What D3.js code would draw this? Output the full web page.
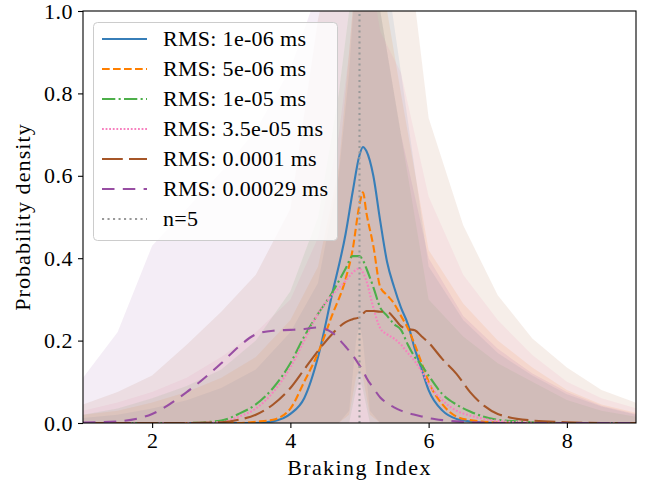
<!DOCTYPE html>
<html>
<head>
<meta charset="utf-8">
<script src="https://cdn.jsdelivr.net/npm/d3@7/dist/d3.min.js"></script>
<style>
  body { margin: 0; background: white; }
</style>
</head>
<body>
<svg id="chart" width="654" height="481"></svg>
<script>
// braking index values where the density curves were read
var lineGrid = [1, 1.5, 2, 2.5, 3, 3.25, 3.5, 3.75, 4, 4.2, 4.4, 4.6, 4.8, 4.9, 5, 5.05, 5.1, 5.2, 5.3, 5.4, 5.5, 5.6, 5.7, 5.8, 5.9, 6, 6.2, 6.4, 6.6, 6.8, 7, 7.5, 8, 8.5, 9]

var rms1e06   = [0,0,0,0,0,0,0,0.004,0.022,0.06,0.16,0.31,0.46,0.56,0.65,0.67,0.66,0.6,0.49,0.39,0.33,0.28,0.24,0.18,0.13,0.08,0.03,0.01,0.004,0.001,0,0,0,0,0]
var rms5e06   = [0,0,0,0,0,0,0.003,0.008,0.035,0.1,0.17,0.26,0.35,0.42,0.53,0.56,0.51,0.43,0.33,0.31,0.29,0.26,0.23,0.19,0.145,0.1,0.045,0.016,0.007,0.003,0.001,0,0,0,0]
var rms1e05   = [0,0,0,0,0.006,0.022,0.045,0.085,0.145,0.21,0.265,0.315,0.375,0.405,0.405,0.395,0.375,0.33,0.28,0.26,0.24,0.226,0.19,0.16,0.14,0.115,0.07,0.045,0.028,0.015,0.008,0.002,0,0,0]
var rms35e06  = [0,0,0,0,0.002,0.015,0.035,0.075,0.135,0.2,0.265,0.31,0.345,0.365,0.375,0.365,0.345,0.28,0.23,0.215,0.205,0.19,0.17,0.15,0.125,0.095,0.055,0.03,0.018,0.01,0.005,0.001,0,0,0]
var rms1e04   = [0,0,0,0,0.002,0.008,0.02,0.045,0.085,0.13,0.175,0.215,0.245,0.252,0.257,0.265,0.272,0.272,0.27,0.27,0.255,0.235,0.228,0.225,0.21,0.195,0.155,0.12,0.075,0.042,0.022,0.006,0.002,0,0]
var rms29e05  = [0.001,0.004,0.022,0.075,0.145,0.185,0.215,0.224,0.226,0.228,0.232,0.22,0.185,0.165,0.14,0.127,0.11,0.085,0.062,0.048,0.038,0.03,0.024,0.02,0.016,0.012,0.007,0.004,0.002,0.001,0,0,0,0,0]

// spread of the densities (lower / upper envelope)
var bandGrid = [1, 1.5, 2, 2.5, 3, 3.5, 4, 4.4, 4.7, 4.85, 4.95, 5, 5.05, 5.15, 5.3, 5.6, 6, 6.5, 7, 7.5, 8, 8.5, 9]

var hi1e06  = [0.012,0.02,0.035,0.055,0.085,0.13,0.22,0.34,0.6,0.85,1.1,1.2,1.25,1.25,1.2,0.85,0.38,0.25,0.17,0.115,0.07,0.04,0.02]
var hi5e06  = [0.02,0.03,0.05,0.075,0.11,0.16,0.25,0.38,0.62,0.9,1.1,1.2,1.25,1.25,1.1,0.8,0.42,0.29,0.2,0.135,0.08,0.045,0.025]
var hi1e05  = [0.02,0.035,0.06,0.09,0.13,0.2,0.32,0.5,0.8,1.0,1.2,1.25,1.25,1.2,1.0,0.7,0.3,0.21,0.145,0.1,0.056,0.03,0.015]
var hi35e06 = [0.03,0.05,0.075,0.11,0.16,0.22,0.3,0.45,0.7,0.9,1.1,1.15,1.15,1.1,0.95,0.85,0.55,0.36,0.25,0.165,0.1,0.06,0.036]
var hi1e04  = [0.045,0.075,0.115,0.19,0.27,0.36,0.52,0.98,1.2,1.3,1.35,1.4,1.4,1.4,1.4,1.3,0.74,0.48,0.31,0.205,0.135,0.08,0.049]
var hi29e05 = [0.11,0.22,0.43,0.52,0.61,0.71,0.86,1.05,1.25,1.3,1.3,1.3,1.25,1.15,1.0,0.7,0.4,0.26,0.18,0.12,0.075,0.042,0.022]

var lo1e06  = [0,0,0,0,0,0,0,0,0,0.03,0.2,0.24,0.2,0.03,0,0,0,0,0,0,0,0,0]
var lo5e06  = [0,0,0,0,0,0,0,0,0,0.02,0.11,0.13,0.11,0.02,0,0,0,0,0,0,0,0,0]
var lo1e05  = [0,0,0,0,0,0,0,0,0,0,0.08,0.11,0.08,0,0,0,0,0,0,0,0,0,0]
var lo35e06 = [0,0,0,0,0,0,0,0,0,0,0,0,0,0,0,0,0,0,0,0,0,0,0]
var lo1e04  = [0,0,0,0,0,0,0,0,0,0,0,0,0,0,0,0,0,0,0,0,0,0,0]
var lo29e05 = [0,0,0,0,0,0,0,0,0,0,0,0,0,0,0,0,0,0,0,0,0,0,0]

var labels = ['RMS: 1e-06 ms', 'RMS: 5e-06 ms', 'RMS: 1e-05 ms', 'RMS: 3.5e-05 ms', 'RMS: 0.0001 ms', 'RMS: 0.00029 ms']
var xTicks = [2, 4, 6, 8]
var yTicks = [0, 0.2, 0.4, 0.6, 0.8, 1.0]
var nTrue = 5

var series = [
  {label: labels[0], y: rms1e06,  hi: hi1e06,  lo: lo1e06,  color: '#377eb8', dash: null},
  {label: labels[1], y: rms5e06,  hi: hi5e06,  lo: lo5e06,  color: '#ff7f00', dash: '7.7,3.3'},
  {label: labels[2], y: rms1e05,  hi: hi1e05,  lo: lo1e05,  color: '#4daf4a', dash: '13.3,3.3,2.1,3.3'},
  {label: labels[3], y: rms35e06, hi: hi35e06, lo: lo35e06, color: '#f781bf', dash: '1.8,1.8'},
  {label: labels[4], y: rms1e04,  hi: hi1e04,  lo: lo1e04,  color: '#a65628', dash: '20.8,6.2'},
  {label: labels[5], y: rms29e05, hi: hi29e05, lo: lo29e05, color: '#984ea3', dash: '12.5,8.3'}
]

var serif = '"Liberation Serif", monospace'
var margin = {left: 83, right: 18, top: 11, bottom: 58}
var width = 654, height = 481
var svg = d3.select('#chart')

var x = d3.scaleLinear().domain([1, 9]).range([margin.left, width - margin.right])
var y = d3.scaleLinear().domain([0, 1]).range([height - margin.bottom, margin.top])

svg.append('defs').append('clipPath').attr('id', 'plotclip')
  .append('rect')
  .attr('x', x(1)).attr('y', y(1))
  .attr('width', x(9) - x(1)).attr('height', y(0) - y(1))

var plot = svg.append('g').attr('clip-path', 'url(#plotclip)')

// bands
var area = d3.area()
  .x(function(d){ return x(d.x) })
  .y0(function(d){ return y(d.lo) })
  .y1(function(d){ return y(d.hi) })

series.forEach(function(s){
  var pts = bandGrid.map(function(g, i){ return {x: g, lo: s.lo[i], hi: s.hi[i]} })
  plot.append('path')
    .attr('d', area(pts))
    .attr('fill', s.color)
    .attr('fill-opacity', 0.1)
})

// density lines
var line = d3.line()
  .x(function(d){ return x(d[0]) })
  .y(function(d){ return y(d[1]) })
  .curve(d3.curveMonotoneX)

series.forEach(function(s){
  plot.append('path')
    .attr('d', line(lineGrid.map(function(g, i){ return [g, s.y[i]] })))
    .attr('fill', 'none')
    .attr('stroke', s.color)
    .attr('stroke-width', 2.1)
    .attr('stroke-dasharray', s.dash)
})

plot.append('line')
  .attr('x1', x(nTrue)).attr('x2', x(nTrue))
  .attr('y1', y(0)).attr('y2', y(1))
  .attr('stroke', '#999999')
  .attr('stroke-width', 2.1)
  .attr('stroke-dasharray', '2.1,3.4')

// axes
svg.append('g')
  .attr('transform', 'translate(0,' + y(0) + ')')
  .call(d3.axisBottom(x).tickValues(xTicks).tickFormat(d3.format('d')).tickSize(5).tickPadding(4))
svg.append('g')
  .attr('transform', 'translate(' + x(1) + ',0)')
  .call(d3.axisLeft(y).tickValues(yTicks).tickFormat(d3.format('.1f')).tickSize(5).tickPadding(5))

svg.selectAll('.domain').remove()
svg.selectAll('.tick line').attr('stroke', 'black').attr('stroke-width', 1.1)
svg.selectAll('.tick text')
  .attr('fill', 'black')
  .style('font-family', serif)
  .style('font-size', '22px')
  .style('letter-spacing', '0.5px')

svg.append('rect')
  .attr('x', x(1)).attr('y', y(1))
  .attr('width', x(9) - x(1)).attr('height', y(0) - y(1))
  .attr('fill', 'none')
  .attr('stroke', 'black')
  .attr('stroke-width', 1.1)

svg.append('text')
  .attr('x', (x(1) + x(9)) / 2)
  .attr('y', 475)
  .attr('text-anchor', 'middle')
  .style('font-family', serif)
  .style('font-size', '22px')
  .style('letter-spacing', '1.4px')
  .text('Braking Index')

svg.append('text')
  .attr('transform', 'translate(30,' + (y(0) + y(1)) / 2 + ') rotate(-90)')
  .attr('text-anchor', 'middle')
  .style('font-family', serif)
  .style('font-size', '22px')
  .style('letter-spacing', '1.1px')
  .text('Probability density')

// legend
var legend = svg.append('g')
legend.append('rect')
  .attr('x', 93.5).attr('y', 22.5)
  .attr('width', 244).attr('height', 218)
  .attr('rx', 4)
  .attr('fill', 'white').attr('fill-opacity', 0.8)
  .attr('stroke', '#cccccc').attr('stroke-width', 1)

var entries = series.map(function(s){ return {label: s.label, color: s.color, dash: s.dash} })
entries.push({label: 'n=' + nTrue, color: '#999999', dash: '2.1,3.4'})

var rows = legend.selectAll('.entry').data(entries).enter().append('g')
  .attr('class', 'entry')
  .attr('transform', function(d, i){ return 'translate(0,' + (39 + i * 30) + ')' })

rows.append('line')
  .attr('x1', 102).attr('x2', 147)
  .attr('stroke', function(d){ return d.color })
  .attr('stroke-width', 2.1)
  .attr('stroke-dasharray', function(d){ return d.dash })

rows.append('text')
  .attr('x', 163)
  .attr('y', 7)
  .style('font-family', serif)
  .style('font-size', '22px')
  .style('letter-spacing', '0.3px')
  .text(function(d){ return d.label })
</script>
</body>
</html>
